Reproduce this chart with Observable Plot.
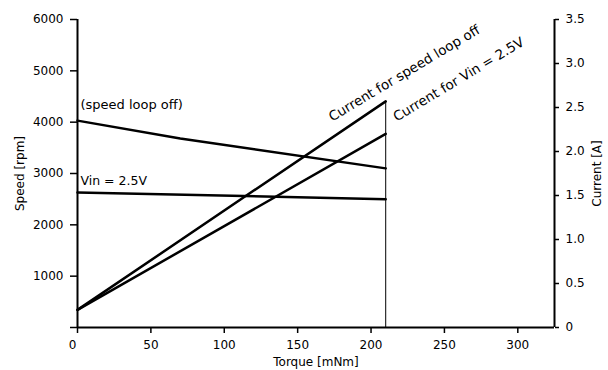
<!DOCTYPE html>
<html>
<head>
<meta charset="utf-8">
<script src="https://cdn.jsdelivr.net/npm/d3@7"></script>
<script src="https://cdn.jsdelivr.net/npm/@observablehq/plot@0.6"></script>
<style>
  body { margin: 0; background: #fff; }
  #chart svg { display: block; }
</style>
</head>
<body>
<div id="chart"></div>
<script>
// Torque axis values (mNm)
const torque = [0, 70, 210];
const torqueEnds = [0, 210];

// Speed (rpm)
const speedLoopOff = [4030, 3680, 3100];
const speedVin25 = [2630, 2500];

// Current (A)
const currentLoopOff = [0.2, 2.57];
const currentVin25 = [0.2, 2.2];

// Tick values
const xTicks = [0, 50, 100, 150, 200, 250, 300];
const speedTicks = [0, 1000, 2000, 3000, 4000, 5000, 6000];
const currentTicks = [0, 0.5, 1.0, 1.5, 2.0, 2.5, 3.0, 3.5];

// Texts
const labelSpeedOff = "(speed loop off)";
const labelVin = "Vin = 2.5V";
const labelCurOff = "Current for speed loop off";
const labelCurVin = "Current for Vin = 2.5V";

const SPEED_MAX = 6000, CURRENT_MAX = 3.5;
const k = SPEED_MAX / CURRENT_MAX; // current -> speed-scale units

const speedOffData = torque.map((t, i) => ({t, v: speedLoopOff[i]}));
const speedVinData = torqueEnds.map((t, i) => ({t, v: speedVin25[i]}));
const curOffData = torqueEnds.map((t, i) => ({t, a: currentLoopOff[i]}));
const curVinData = torqueEnds.map((t, i) => ({t, a: currentVin25[i]}));

const font = "'DejaVu Sans', sans-serif";

const chart = Plot.plot({
  width: 608,
  height: 370,
  marginLeft: 77,
  marginRight: 54,
  marginTop: 19,
  marginBottom: 43,
  style: {fontFamily: font, fontSize: "12px", color: "#000", background: "#fff"},
  x: {domain: [0, 325]},
  y: {domain: [0, SPEED_MAX]},
  marks: [
    // frame lines
    Plot.ruleX([0], {y1: 0, y2: SPEED_MAX, stroke: "#000", strokeWidth: 2}),
    Plot.ruleX([325], {y1: 0, y2: SPEED_MAX, stroke: "#000", strokeWidth: 2}),
    Plot.ruleY([0], {stroke: "#000", strokeWidth: 2}),
    // axes
    Plot.axisX({ticks: xTicks, tickSize: 6, tickPadding: 7, strokeWidth: 1.5,
      tickFormat: d => d === 0 ? "" : String(d),
      label: "Torque [mNm]", labelAnchor: "center", labelArrow: "none", labelOffset: 38}),
    Plot.axisX({ticks: [xTicks[0]], tickSize: 0, tickPadding: 13, dx: -5, label: null}),
    Plot.axisY({anchor: "left", ticks: speedTicks, tickSize: 7, tickPadding: 7, strokeWidth: 1.5,
      tickFormat: d => d === 0 ? "" : String(d),
      label: "Speed [rpm]", labelAnchor: "center", labelArrow: "none", labelOffset: 62}),
    Plot.axisY({anchor: "right", ticks: currentTicks.map(c => c * k), tickSize: 4, tickPadding: 7, strokeWidth: 1.5,
      tickFormat: d => { const c = d / k; return Math.abs(c) < 1e-9 ? "0" : c.toFixed(1); },
      label: "Current [A]", labelAnchor: "center", labelArrow: "none", labelOffset: 46}),
    // vertical marker at 210 mNm
    Plot.ruleX([torqueEnds[1]], {y1: 0, y2: currentLoopOff[1] * k, stroke: "#000", strokeWidth: 1}),
    // speed lines
    Plot.line(speedOffData, {x: "t", y: "v", stroke: "#000", strokeWidth: 2.5}),
    Plot.line(speedVinData, {x: "t", y: "v", stroke: "#000", strokeWidth: 2.5}),
    // current lines (mapped onto the shared scale)
    Plot.line(curOffData, {x: "t", y: d => d.a * k, stroke: "#000", strokeWidth: 2.5}),
    Plot.line(curVinData, {x: "t", y: d => d.a * k, stroke: "#000", strokeWidth: 2.5}),
    // annotations
    Plot.text([labelSpeedOff], {x: 2, y: 4330, text: d => d, textAnchor: "start", fill: "#000", fontSize: 13}),
    Plot.text([labelVin], {x: 2, y: 2860, text: d => d, textAnchor: "start", fill: "#000", fontSize: 12.5}),
    Plot.text([labelCurOff], {x: 172, y: 4080, text: d => d, textAnchor: "start", rotate: -31, fill: "#000", fontSize: 13.5}),
    Plot.text([labelCurVin], {x: 216, y: 4080, text: d => d, textAnchor: "start", rotate: -31, fill: "#000", fontSize: 13.5})
  ]
});
document.getElementById("chart").appendChild(chart);
</script>
</body>
</html>
